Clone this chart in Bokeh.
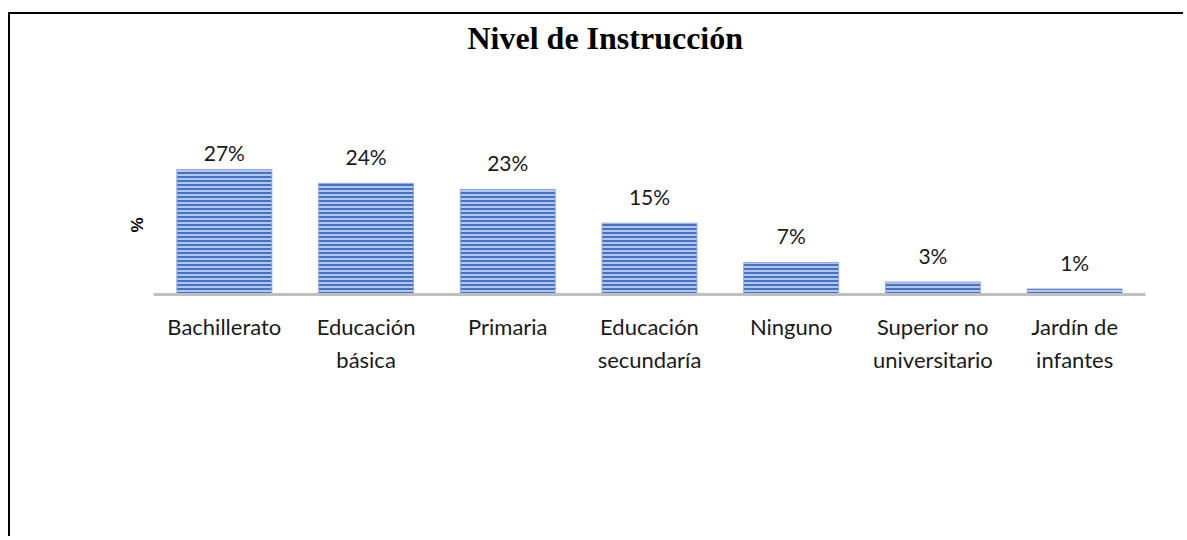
from bokeh.plotting import figure
from bokeh.models import Range1d, FactorRange, ColumnDataSource, Title
from bokeh.core.properties import value
from bokeh.embed import file_html
from bokeh.resources import INLINE

categories = ["Bachillerato", "Educación\nbásica", "Primaria", "Educación\nsecundaría",
              "Ninguno", "Superior no\nuniversitario", "Jardín de\ninfantes"]
values = [27.0, 24.0, 22.7, 15.4, 6.9, 2.7, 1.2]
labels = ["27%", "24%", "23%", "15%", "7%", "3%", "1%"]

Y_MAX = 50.1
FRAME_H = 234
PX = FRAME_H / Y_MAX            # pixels per data unit
LABEL_GAP = 27                  # px from bar top to label centre
LABEL_CAP = 143                 # px above baseline where labels stop (plot-area top)
label_y = [min(v * PX + LABEL_GAP, LABEL_CAP) / PX for v in values]

src = ColumnDataSource(dict(cat=categories, val=values, lab=labels, ly=label_y))

p = figure(x_range=FactorRange(*categories, range_padding=0),
           y_range=Range1d(0, Y_MAX),
           width=1175, height=524, output_backend="svg", toolbar_location=None,
           min_border_left=143, min_border_right=40, min_border_top=46,
           min_border_bottom=244, outline_line_color=None)
p.styles = {"border-top": "2px solid black", "border-left": "2px solid black",
            "margin-top": "12px", "margin-left": "8px"}

p.title.text = "Nivel de Instrucción"
p.title.text_font = "Liberation Serif"
p.title.text_font_size = "32px"
p.title.text_font_style = "bold"
p.title.text_color = "#000000"
p.title.align = "left"
p.title.vertical_align = "top"
p.title.offset = 314
p.title.standoff = 10

p.vbar(x="cat", top="val", width=0.67, source=src,
       fill_color="#b4c6ea", line_color="#8faadc", line_width=1,
       hatch_pattern="horizontal_line", hatch_color="#4472c4",
       hatch_scale=4, hatch_weight=2)

p.text(x="cat", y="ly", text="lab", source=src, text_align="center",
       text_baseline="middle", text_font=value("Lato"),
       text_font_size="21px", text_color="#1a1a1a")

p.xgrid.grid_line_color = None
p.ygrid.grid_line_color = None

xa = p.xaxis[0]
xa.axis_line_color = "#bfbfbf"
xa.axis_line_width = 3
xa.major_tick_line_color = None
xa.minor_tick_line_color = None
xa.major_label_text_font = "Lato"
xa.major_label_text_font_size = "22px"
xa.major_label_text_color = "#1a1a1a"
xa.major_label_standoff = 12
xa.major_label_text_line_height = 1.25

p.yaxis.visible = False

ytitle = Title(text="%", align="left", offset=62, standoff=14,
               text_font="Liberation Sans", text_font_style="bold",
               text_font_size="17px", text_color="#000000")
p.add_layout(ytitle, "left")

open("out.html", "w").write(file_html(p, INLINE))
